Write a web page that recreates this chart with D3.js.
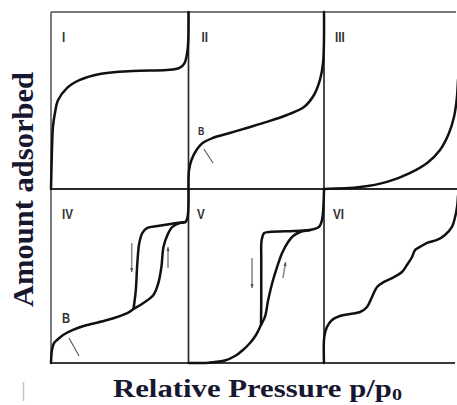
<!DOCTYPE html>
<html>
<head>
<meta charset="utf-8">
<script src="https://cdn.jsdelivr.net/npm/d3@7"></script>
<style>
  html, body { margin: 0; padding: 0; background: #fff; }
  svg { display: block; }
</style>
</head>
<body>
<svg id="chart" width="457" height="405"></svg>
<script>
// Six physisorption isotherm types. Each curve is [relative pressure, amount adsorbed],
// both on a 0–1 scale inside its own panel.
const panelNames = ["I", "II", "III", "IV", "V", "VI"];

const typeI = [[0,0],[0.007,0.22],[0.014,0.35],[0.03,0.435],[0.05,0.5],[0.116,0.57],[0.21,0.616],
  [0.355,0.65],[0.594,0.667],[0.84,0.672],[0.935,0.684],[0.97,0.71],[0.993,0.785],[1,1]];

const typeII = [[0,0],[0.004,0.107],[0.022,0.164],[0.059,0.22],[0.104,0.26],[0.178,0.288],[0.304,0.316],
  [0.43,0.345],[0.578,0.379],[0.726,0.418],[0.852,0.463],[0.926,0.531],[0.97,0.616],[0.993,0.712],[1,1]];

const typeIII = [[0,0],[0.27,0.011],[0.47,0.04],[0.64,0.09],[0.77,0.147],[0.866,0.22],[0.933,0.316],
  [0.97,0.407],[0.99,0.503],[1,0.616]];

const typeIVads = [[0,0],[0.007,0.075],[0.022,0.115],[0.044,0.132],[0.088,0.161],[0.16,0.19],[0.263,0.218],
  [0.409,0.247],[0.555,0.287],[0.599,0.31],[0.672,0.345],[0.745,0.391],[0.781,0.46],[0.803,0.552],
  [0.818,0.667],[0.847,0.736],[0.883,0.782],[0.942,0.805],[0.978,0.81],[0.993,0.839],[1,1]];
const typeIVdes = [[0.978,0.81],[0.869,0.799],[0.774,0.787],[0.701,0.776],[0.664,0.747],[0.642,0.69],
  [0.628,0.575],[0.617,0.42],[0.606,0.345],[0.599,0.31]];

const typeVads = [[0,0],[0.15,0.002],[0.269,0.014],[0.343,0.04],[0.402,0.075],[0.454,0.115],[0.498,0.161],
  [0.535,0.218],[0.566,0.27],[0.588,0.362],[0.618,0.46],[0.654,0.552],[0.691,0.632],[0.735,0.695],
  [0.772,0.73],[0.824,0.753],[0.897,0.764],[0.963,0.782],[0.985,0.822],[1,1]];
const typeVdes = [[0.897,0.764],[0.779,0.759],[0.596,0.753],[0.559,0.747],[0.54,0.707],[0.537,0.592],
  [0.537,0.362],[0.535,0.218]];

const typeVI = [[0,0],[0.002,0.149],[0.022,0.207],[0.06,0.247],[0.119,0.27],[0.194,0.282],[0.269,0.293],
  [0.321,0.322],[0.358,0.379],[0.396,0.437],[0.448,0.466],[0.522,0.494],[0.582,0.523],[0.619,0.563],
  [0.657,0.609],[0.679,0.649],[0.716,0.667],[0.769,0.69],[0.843,0.707],[0.903,0.736],[0.955,0.782],
  [0.978,0.839],[0.993,0.897],[1,0.96]];

// Curves belonging to each panel
const panelCurves = [[typeI], [typeII], [typeIII], [typeIVads, typeIVdes], [typeVads, typeVdes], [typeVI]];

// Hysteresis direction arrows: [panel, x, yTail, xHead, yHead]
const loopArrows = [
  [3, 0.587, 0.69, 0.587, 0.523],
  [3, 0.851, 0.546, 0.851, 0.667],
  [4, 0.469, 0.603, 0.469, 0.431],
  [4, 0.697, 0.489, 0.717, 0.58]
];

// Point-B markers: [panel, labelX, labelY, pointerX1, pointerY1, pointerX2, pointerY2, size]
const pointB = [
  [1, 0.07, 0.305, 0.114, 0.226, 0.181, 0.147, 11],
  [3, 0.08, 0.23, 0.131, 0.144, 0.204, 0.04, 14]
];

const svg = d3.select("#chart");

// Grid layout
const colEdges = [51, 188.5, 324, 458];
const rowEdges = [12, 189, 363];

const panels = panelNames.map((name, i) => {
  const c = i % 3, r = Math.floor(i / 3);
  return {
    name,
    x: d3.scaleLinear().domain([0, 1]).range([colEdges[c], colEdges[c + 1]]),
    y: d3.scaleLinear().domain([0, 1]).range([rowEdges[r + 1], rowEdges[r]])
  };
});

// Frame and dividers
const frame = svg.append("g").attr("fill", "none");
frame.append("line").attr("x1", colEdges[0]).attr("x2", 456).attr("y1", rowEdges[0]).attr("y2", rowEdges[0])
  .attr("stroke", "#7a7a7a").attr("stroke-width", 2.2);
frame.append("line").attr("x1", colEdges[0]).attr("x2", 455).attr("y1", rowEdges[2]).attr("y2", rowEdges[2])
  .attr("stroke", "#3a3a3a").attr("stroke-width", 2);
frame.append("line").attr("x1", colEdges[0]).attr("x2", 457).attr("y1", rowEdges[1]).attr("y2", rowEdges[1])
  .attr("stroke", "#2a2a2a").attr("stroke-width", 1.8);
frame.append("line").attr("x1", colEdges[0]).attr("x2", colEdges[0]).attr("y1", rowEdges[0]).attr("y2", rowEdges[2])
  .attr("stroke", "#5a5a5a").attr("stroke-width", 1.6);
[colEdges[1], colEdges[2]].forEach(x => {
  frame.append("line").attr("x1", x).attr("x2", x).attr("y1", rowEdges[0]).attr("y2", rowEdges[2])
    .attr("stroke", "#2a2a2a").attr("stroke-width", 1.7);
});

// Isotherm curves
panels.forEach((p, i) => {
  const line = d3.line()
    .x(d => p.x(d[0]))
    .y(d => p.y(d[1]))
    .curve(d3.curveCatmullRom.alpha(0.5));
  svg.append("g").selectAll("path")
    .data(panelCurves[i])
    .join("path")
    .attr("d", line)
    .attr("fill", "none")
    .attr("stroke", "#111")
    .attr("stroke-width", 2.5)
    .attr("stroke-linecap", "round")
    .attr("stroke-linejoin", "round");
});

// Panel numerals
const labelDx = [11, 13, 11, 11, 8.5, 9];
panels.forEach((p, i) => {
  const x0 = p.x(0) + labelDx[i], y0 = p.y(1) + 30;
  svg.append("text")
    .attr("transform", `translate(${x0},${y0}) scale(0.78,1)`)
    .attr("font-family", "Liberation Sans, Arial, sans-serif")
    .attr("font-weight", "bold")
    .attr("font-size", 15)
    .attr("fill", "#333")
    .text(p.name);
});

// Hysteresis arrows
loopArrows.forEach(([pi, x1, y1, x2, y2]) => {
  const p = panels[pi];
  const X1 = p.x(x1), Y1 = p.y(y1), X2 = p.x(x2), Y2 = p.y(y2);
  svg.append("line").attr("x1", X1).attr("y1", Y1).attr("x2", X2).attr("y2", Y2)
    .attr("stroke", "#8a8a8a").attr("stroke-width", 1.6);
  const ang = Math.atan2(Y2 - Y1, X2 - X1) * 180 / Math.PI;
  svg.append("path")
    .attr("d", "M0,0 L-4,-1.6 L-4,1.6 Z")
    .attr("transform", `translate(${X2},${Y2}) rotate(${ang})`)
    .attr("fill", "#555");
});

// Point B labels and pointers
pointB.forEach(([pi, lx, ly, px1, py1, px2, py2, size]) => {
  const p = panels[pi];
  svg.append("text")
    .attr("transform", `translate(${p.x(lx)},${p.y(ly)}) scale(0.8,1)`)
    .attr("font-family", "Liberation Sans, Arial, sans-serif")
    .attr("font-weight", "bold")
    .attr("font-size", size)
    .attr("fill", "#333")
    .text("B");
  svg.append("line")
    .attr("x1", p.x(px1)).attr("y1", p.y(py1))
    .attr("x2", p.x(px2)).attr("y2", p.y(py2))
    .attr("stroke", "#555").attr("stroke-width", 1.1);
});

// Axis titles
const titleColor = "#17172f";
const yTitle = svg.append("text")
  .attr("font-family", "Liberation Serif, Times New Roman, serif")
  .attr("font-weight", "bold")
  .attr("font-size", 30)
  .attr("fill", titleColor)
  .attr("text-anchor", "middle")
  .text("Amount adsorbed");
{
  const w = yTitle.node().getComputedTextLength();
  yTitle.attr("transform", `translate(33,189.5) rotate(-90) scale(${235 / w},1)`);
}

const xTitle = svg.append("text")
  .attr("font-family", "Liberation Serif, Times New Roman, serif")
  .attr("font-weight", "bold")
  .attr("font-size", 26)
  .attr("fill", titleColor);
xTitle.append("tspan").text("Relative Pressure p/p");
xTitle.append("tspan").attr("font-size", 17).attr("dy", 3).text("0");
{
  const bb = xTitle.node().getBBox();
  const s = 289 / bb.width;
  xTitle.attr("transform", `translate(113,397) scale(${s},1)`);
}

// Small stray tick at lower left
svg.append("line").attr("x1", 23.5).attr("x2", 23.5).attr("y1", 382).attr("y2", 401)
  .attr("stroke", "#c8c8c8").attr("stroke-width", 1.6);
</script>
</body>
</html>
